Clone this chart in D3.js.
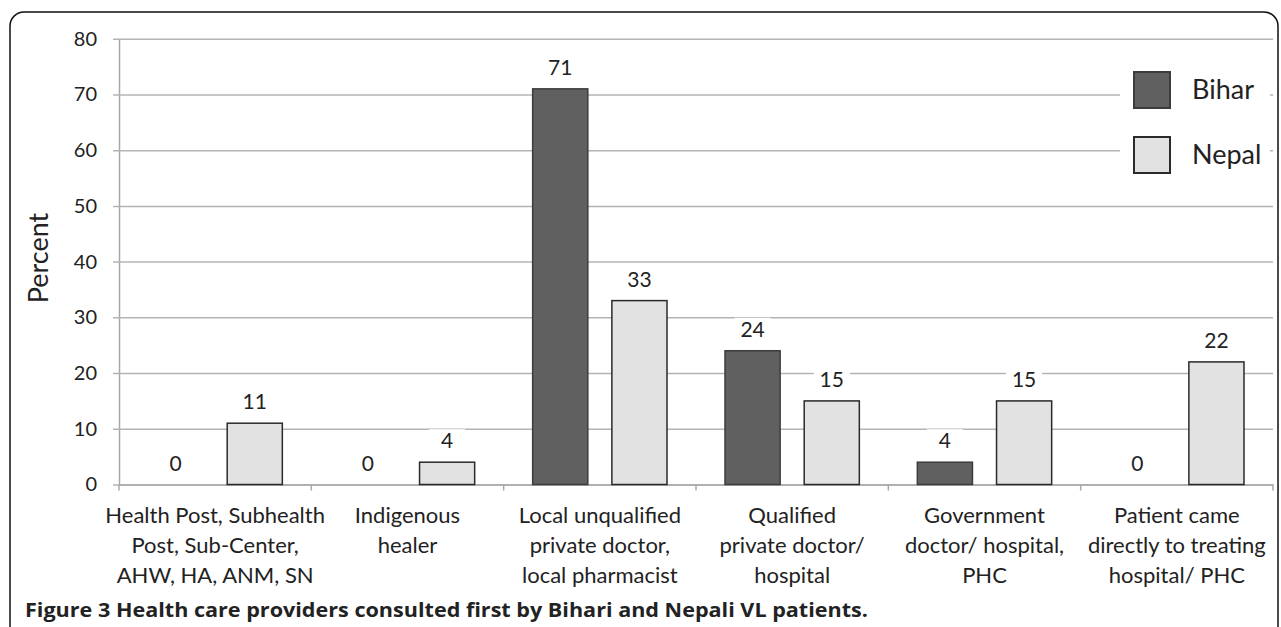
<!DOCTYPE html>
<html>
<head>
<meta charset="utf-8">
<script src="https://cdn.jsdelivr.net/npm/d3@7"></script>
<style>
  body { margin: 0; background: #fff; }
  svg text { font-family: Lato, "Open Sans", sans-serif; fill: #222; }
</style>
</head>
<body>
<div id="root"></div>
<script>
// Chart data
const categories = [
  ["Health Post, Subhealth", "Post, Sub-Center,", "AHW, HA, ANM, SN"],
  ["Indigenous", "healer"],
  ["Local unqualified", "private doctor,", "local pharmacist"],
  ["Qualified", "private doctor/", "hospital"],
  ["Government", "doctor/ hospital,", "PHC"],
  ["Patient came", "directly to treating", "hospital/ PHC"]
];
const seriesNames = ["Bihar", "Nepal"];
const bihar = [0, 0, 71, 24, 4, 0];
const nepal = [11, 4, 33, 15, 15, 22];
const yTicks = [0, 10, 20, 30, 40, 50, 60, 70, 80];
const caption = "Figure 3 Health care providers consulted first by Bihari and Nepali VL patients.";

const width = 1281;
const height = 627;

const fills = { Bihar: "#606060", Nepal: "#e2e2e2" };
const strokes = { Bihar: "#3c3c3c", Nepal: "#2a2a2a" };

const svg = d3
  .select("#root")
  .append("svg")
  .attr("width", width)
  .attr("height", height);

// Frame
svg
  .append("rect")
  .attr("x", 10)
  .attr("y", 12)
  .attr("width", 1268)
  .attr("height", 660)
  .attr("rx", 14)
  .attr("fill", "none")
  .attr("stroke", "#111")
  .attr("stroke-width", 1.5);

// Scales
const x0 = d3
  .scaleBand()
  .domain(d3.range(categories.length))
  .range([119, 1273])
  .padding(0);

const x1 = d3
  .scaleBand()
  .domain(seriesNames)
  .range([29, x0.bandwidth() - 29])
  .paddingInner(0.304);

const y = d3.scaleLinear().domain([0, 80]).range([484.5, 38.7]);

// Gridlines + y axis
const yAxis = d3
  .axisLeft(y)
  .tickValues(yTicks)
  .tickSize(-(1273 - 119))
  .tickSizeOuter(0)
  .tickPadding(16);

const gy = svg
  .append("g")
  .attr("class", "y-axis")
  .attr("transform", "translate(119,0)")
  .call(yAxis);

gy.select(".domain").attr("stroke", "#a8a8a8").attr("stroke-width", 1.5);
gy.selectAll(".tick line")
  .attr("x1", -6)
  .attr("stroke", "#b4b4b4")
  .attr("stroke-width", 1.5);
gy.selectAll(".tick text")
  .attr("x", -22)
  .style("font-size", "20px")
  .style("font-family", "Lato, 'Open Sans', sans-serif")
  .attr("fill", "#222");

// x axis
const xAxis = d3
  .axisBottom(x0)
  .tickSize(0)
  .tickFormat("");

const gx = svg
  .append("g")
  .attr("class", "x-axis")
  .attr("transform", "translate(0," + y(0) + ")")
  .call(xAxis);

gx.select(".domain").attr("stroke", "#a8a8a8").attr("stroke-width", 1.5);

// category boundary ticks
gx.selectAll("line.sep")
  .data(d3.range(categories.length + 1))
  .enter()
  .append("line")
  .attr("class", "sep")
  .attr("x1", i => 119 + i * x0.step())
  .attr("x2", i => 119 + i * x0.step())
  .attr("y1", 0)
  .attr("y2", 6)
  .attr("stroke", "#a8a8a8")
  .attr("stroke-width", 1.5);

// category labels
categories.forEach((lines, i) => {
  const t = svg
    .append("text")
    .attr("text-anchor", "middle")
    .attr("x", x0(i) + x0.bandwidth() / 2)
    .attr("y", 523)
    .style("font-size", "22px");
  lines.forEach((line, j) => {
    t.append("tspan")
      .attr("x", x0(i) + x0.bandwidth() / 2)
      .attr("dy", j === 0 ? 0 : 30)
      .text(line);
  });
});

// Bars
const rows = categories.map((c, i) => ({
  idx: i,
  values: [
    { key: "Bihar", value: bihar[i] },
    { key: "Nepal", value: nepal[i] }
  ]
}));

const groups = svg
  .append("g")
  .selectAll("g")
  .data(rows)
  .enter()
  .append("g")
  .attr("transform", d => "translate(" + x0(d.idx) + ",0)");

groups
  .selectAll("rect")
  .data(d => d.values.filter(v => v.value > 0))
  .enter()
  .append("rect")
  .attr("x", d => x1(d.key))
  .attr("y", d => y(d.value))
  .attr("width", x1.bandwidth())
  .attr("height", d => y(0) - y(d.value))
  .attr("fill", d => fills[d.key])
  .attr("stroke", d => strokes[d.key])
  .attr("stroke-width", 1.5);

// Value labels with white background
const labels = groups
  .selectAll("g.lbl")
  .data(d => d.values)
  .enter()
  .append("g")
  .attr("class", "lbl")
  .attr("transform", d => "translate(" + (x1(d.key) + x1.bandwidth() / 2) + "," + (y(d.value) - 14) + ")");

labels
  .append("rect")
  .attr("x", -18)
  .attr("y", -19)
  .attr("width", 36)
  .attr("height", 25)
  .attr("fill", "#fff");

labels
  .append("text")
  .attr("text-anchor", "middle")
  .style("font-size", "21px")
  .text(d => d.value);

// Legend
const legend = svg.append("g").attr("transform", "translate(1120,58)");

legend
  .append("rect")
  .attr("x", 0)
  .attr("y", 0)
  .attr("width", 150)
  .attr("height", 128)
  .attr("fill", "#fff");

seriesNames.forEach((name, i) => {
  legend
    .append("rect")
    .attr("x", 14)
    .attr("y", 14 + i * 65)
    .attr("width", 36)
    .attr("height", 36)
    .attr("fill", fills[name])
    .attr("stroke", strokes[name])
    .attr("stroke-width", 2);
  legend
    .append("text")
    .attr("x", 72)
    .attr("y", 41 + i * 65)
    .style("font-size", "27px")
    .text(name);
});

// Y title
svg
  .append("text")
  .attr("transform", "translate(48,258) rotate(-90)")
  .attr("text-anchor", "middle")
  .style("font-size", "27px")
  .text("Percent");

// Caption
svg
  .append("text")
  .attr("x", 25)
  .attr("y", 617)
  .attr("textLength", 843)
  .attr("lengthAdjust", "spacingAndGlyphs")
  .style("font-family", "'Open Sans', Lato, sans-serif")
  .style("font-size", "19.5px")
  .style("font-weight", "bold")
  .text(caption);
</script>
</body>
</html>
